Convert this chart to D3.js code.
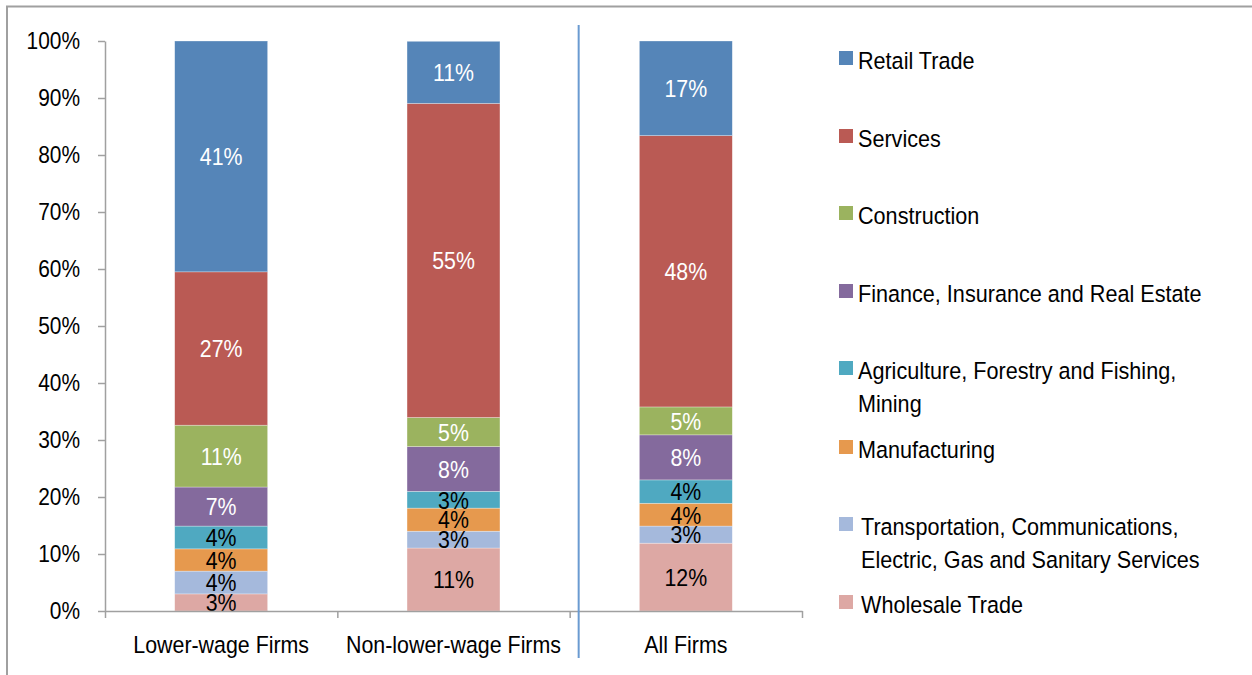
<!DOCTYPE html>
<html lang="en">
<head>
    <meta charset="UTF-8">
    <title>Industry Distribution by Firm Type</title>
    <script src="https://d3js.org/d3.v7.min.js"></script>
    <style>
        body { margin: 0; background: #fff; }
        svg text { font-family: "Liberation Sans", Arial, sans-serif; }
        .axis path, .axis line { stroke: #a0a0a0; stroke-width: 1.5; }
        .axis text { font-size: 23.5px; fill: #000; }
    </style>
</head>
<body>
    <svg id="chart" width="1252" height="675"></svg>
    <script>
        // Categories (bars) and sector shares in percent, bottom of the stack first
        const categories = ["Lower-wage Firms", "Non-lower-wage Firms", "All Firms"];
        const sectors = [
            "Wholesale Trade",
            "Transportation, Communications, Electric, Gas and Sanitary Services",
            "Manufacturing",
            "Agriculture, Forestry and Fishing, Mining",
            "Finance, Insurance and Real Estate",
            "Construction",
            "Services",
            "Retail Trade"
        ];
        const wholesale = [3.0, 11.05, 11.9];
        const transportation = [4.0, 2.95, 3.0];
        const manufacturing = [3.9, 4.05, 4.0];
        const agriculture = [4.0, 2.95, 4.1];
        const finance = [6.85, 7.85, 7.9];
        const construction = [10.85, 5.1, 4.9];
        const services = [26.9, 55.1, 47.6];
        const retail = [40.5, 10.9, 16.6];
        const yTicks = [0, 10, 20, 30, 40, 50, 60, 70, 80, 90, 100];

        const seriesValues = [wholesale, transportation, manufacturing, agriculture,
            finance, construction, services, retail];

        // styles
        const colors = ["#dda8a4", "#a5b9dc", "#e6994e", "#4fa9c1", "#846a9d", "#9bb35f", "#ba5a54", "#5585b8"];
        const labelColors = ["#000", "#000", "#000", "#000", "#fff", "#fff", "#fff", "#fff"];
        const legendLines = [
            ["Wholesale Trade"],
            ["Transportation, Communications,", "Electric, Gas and Sanitary Services"],
            ["Manufacturing"],
            ["Agriculture, Forestry and Fishing,", "Mining"],
            ["Finance, Insurance and Real Estate"],
            ["Construction"],
            ["Services"],
            ["Retail Trade"]
        ];
        const legendBaselines = [613, 535, 458, 379, 302, 224, 147, 69];
        const legendTextX = [861, 861, 858, 858, 858, 858, 858, 858];

        // the source renders text a little narrow: squeeze glyphs horizontally
        function condense(sel, k) {
            sel.each(function () {
                const t = d3.select(this);
                const tx = +t.attr("x") || 0;
                const ty = +t.attr("y") || 0;
                t.attr("x", 0).attr("y", 0)
                    .attr("transform", `translate(${tx},${ty}) scale(${k},1)`);
                t.selectAll("tspan").filter(function () { return this.hasAttribute("x"); })
                    .attr("x", 0);
            });
        }

        const table = categories.map((c, i) => {
            const row = { category: c };
            sectors.forEach((s, j) => row[s] = seriesValues[j][i]);
            return row;
        });

        const svg = d3.select("#chart");

        // outer frame (top and left edges only are visible)
        svg.append("path")
            .attr("d", "M7,675 L7,6.5 L1252,6.5")
            .attr("fill", "none")
            .attr("stroke", "#a0a0a0")
            .attr("stroke-width", 2);

        const x = d3.scaleBand()
            .domain(categories)
            .range([105, 802])
            .padding(0);

        const y = d3.scaleLinear()
            .domain([0, 100])
            .range([611, 41]);

        const barWidth = x.bandwidth() * 0.4;
        const barOffset = (x.bandwidth() - barWidth) / 2;

        const stacked = d3.stack().keys(sectors)(table);

        // bars
        const layers = svg.append("g")
            .selectAll("g")
            .data(stacked)
            .enter().append("g")
            .attr("fill", (d, i) => colors[i]);

        layers.selectAll("rect")
            .data(d => d)
            .enter().append("rect")
            .attr("x", d => x(d.data.category) + barOffset)
            .attr("y", d => y(d[1]))
            .attr("width", barWidth)
            .attr("height", d => y(d[0]) - y(d[1]))
            .attr("stroke", "#fff")
            .attr("stroke-opacity", 0.5)
            .attr("stroke-width", 0.6);

        // data labels
        stacked.forEach((layer, i) => {
            const labels = svg.append("g")
                .selectAll("text")
                .data(layer)
                .enter().append("text")
                .attr("x", d => x(d.data.category) + x.bandwidth() / 2)
                .attr("y", d => y((d[0] + d[1]) / 2))
                .attr("dy", "0.36em")
                .attr("text-anchor", "middle")
                .attr("font-size", "24.5px")
                .attr("fill", labelColors[i])
                .text(d => Math.round(d[1] - d[0]) + "%");
            condense(labels, 0.87);
        });

        // y axis
        const yAxis = svg.append("g")
            .attr("class", "axis")
            .attr("transform", "translate(105,0)")
            .call(d3.axisLeft(y)
                .tickValues(yTicks)
                .tickFormat(d => d + "%")
                .tickSize(7)
                .tickSizeOuter(0)
                .tickPadding(18));
        condense(yAxis.selectAll("text"), 0.89);

        // x axis: tick marks between categories
        const boundary = d3.scaleLinear().domain([0, categories.length]).range(x.range());
        svg.append("g")
            .attr("class", "axis")
            .attr("transform", "translate(0,611)")
            .call(d3.axisBottom(boundary)
                .tickValues(d3.range(categories.length + 1))
                .tickFormat("")
                .tickSize(7)
                .tickSizeOuter(0));

        // x axis: category labels
        const xLabels = svg.append("g")
            .attr("class", "axis")
            .attr("transform", "translate(0,611)")
            .call(d3.axisBottom(x).tickSize(0).tickPadding(25));
        xLabels.select(".domain").remove();
        condense(xLabels.selectAll("text"), 0.91);

        // separator line before "All Firms"
        svg.append("line")
            .attr("x1", x(categories[2]) + 9)
            .attr("x2", x(categories[2]) + 9)
            .attr("y1", 25)
            .attr("y2", 658)
            .attr("stroke", "#6a9bd1")
            .attr("stroke-width", 2);

        // legend
        const legend = svg.append("g");
        sectors.forEach((s, i) => {
            const by = legendBaselines[i];
            legend.append("rect")
                .attr("x", 839)
                .attr("y", by - 18)
                .attr("width", 14)
                .attr("height", 14)
                .attr("fill", colors[i]);
            const txt = legend.append("text")
                .attr("x", legendTextX[i])
                .attr("y", by)
                .attr("font-size", "23.5px")
                .attr("fill", "#000");
            txt.selectAll("tspan")
                .data(legendLines[i])
                .enter().append("tspan")
                .attr("x", legendTextX[i])
                .attr("dy", (d, k) => k === 0 ? 0 : 33)
                .text(d => d);
            condense(txt, 0.92);
        });
    </script>
</body>
</html>
